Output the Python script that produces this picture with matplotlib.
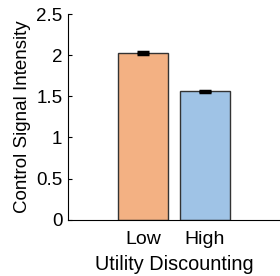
import matplotlib
matplotlib.use("Agg")
import matplotlib.pyplot as plt
import numpy as np

plt.rcParams['font.family'] = ['Liberation Sans', 'DejaVu Sans']

# data
conditions = ['Low', 'High']
signal = [2.03, 1.56]
sem = [0.01, 0.01]
colors = ['#F3B183', '#9FC3E6']

fig = plt.figure(figsize=(2.8, 2.76), dpi=100)
ax = fig.add_axes([0.243, 0.204, 0.757, 0.745])

x = np.arange(1, len(conditions) + 1)
ax.bar(x, signal, width=0.8, color=colors, edgecolor='#333333', linewidth=1.0)
ax.errorbar(x, signal, yerr=sem, fmt='none', ecolor='black', elinewidth=1.5,
            capsize=4, capthick=2.5)

ax.set_xlim(-0.21, 3.21)
ax.set_ylim(0, 2.5)
ax.set_yticks([0, 0.5, 1, 1.5, 2, 2.5])
ax.set_yticklabels(['0', '0.5', '1', '1.5', '2', '2.5'])
ax.set_xticks(x)
ax.set_xticklabels(conditions)
ax.tick_params(axis='y', direction='in', length=3, labelsize=13.5, pad=4)
ax.tick_params(axis='x', length=0, labelsize=14, pad=8)
ax.spines['top'].set_visible(False)
ax.spines['right'].set_visible(False)
ax.set_ylabel('Control Signal Intensity', fontsize=13.5, labelpad=4)
ax.set_xlabel('Utility Discounting', fontsize=14.3, labelpad=5)

fig.savefig('out.png', dpi=100)
